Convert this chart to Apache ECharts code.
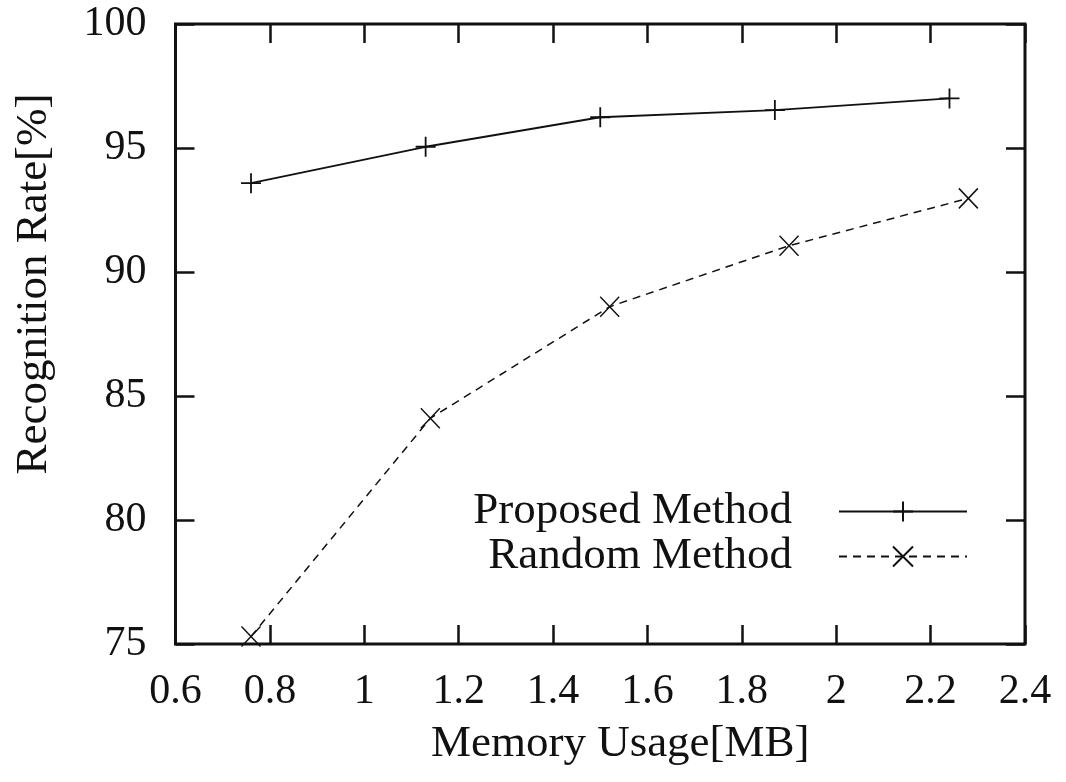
<!DOCTYPE html>
<html>
<head>
<meta charset="utf-8">
<script src="https://cdn.jsdelivr.net/npm/echarts@6/dist/echarts.min.js"></script>
<style>
html,body{margin:0;padding:0;background:#fff;}
#chart{width:1066px;height:782px;}
</style>
</head>
<body>
<div id="chart"></div>
<script>
// ---- data ----
var xTicks = [0.6, 0.8, 1, 1.2, 1.4, 1.6, 1.8, 2, 2.2, 2.4];
var yTicks = [75, 80, 85, 90, 95, 100];
var proposedX = [0.76, 1.13, 1.50, 1.87, 2.24];
var proposedY = [93.58, 95.05, 96.24, 96.53, 97.00];
var randomX = [0.76, 1.14, 1.52, 1.90, 2.28];
var randomY = [75.30, 84.10, 88.60, 91.06, 92.97];
var seriesNames = ['Proposed Method', 'Random Method'];
var xName = 'Memory Usage[MB]';
var yName = 'Recognition Rate[%]';

function pairs(xs, ys) { return xs.map(function (x, i) { return [x, ys[i]]; }); }

var FONT = 'Liberation Serif';
var INK = '#111';
var chart = echarts.init(document.getElementById('chart'), null, {renderer: 'canvas'});

var xMin = xTicks[0], xMax = xTicks[xTicks.length - 1], xInt = 0.2;
var yMin = yTicks[0], yMax = yTicks[yTicks.length - 1], yInt = 5;

var tick = {show: true, inside: true, length: 19, lineStyle: {color: INK, width: 2.5}};

chart.setOption({
  animation: false,
  backgroundColor: '#fff',
  grid: {left: 175.5, right: 41, top: 24, bottom: 138, show: true, borderColor: INK, borderWidth: 3, backgroundColor: 'transparent'},
  legend: {
    orient: 'vertical', align: 'right', right: 93, top: 484,
    itemWidth: 128, itemHeight: 25, itemGap: 0,
    textStyle: {fontFamily: FONT, fontSize: 45, color: INK, lineHeight: 44, padding: [0, 42, 0, 0]},
    data: seriesNames
  },
  xAxis: [
    {type: 'value', min: xMin, max: xMax, interval: xInt, position: 'bottom',
     axisLine: {show: false}, splitLine: {show: false}, axisTick: tick,
     axisLabel: {fontFamily: FONT, fontSize: 42, color: INK, margin: 27},
     name: xName, nameLocation: 'middle', nameGap: 78,
     nameTextStyle: {fontFamily: FONT, fontSize: 45, color: INK, padding: [0, 0, 0, 40]}},
    {type: 'value', min: xMin, max: xMax, interval: xInt, position: 'top',
     axisLine: {show: false}, splitLine: {show: false}, axisTick: tick, axisLabel: {show: false}}
  ],
  yAxis: [
    {type: 'value', min: yMin, max: yMax, interval: yInt, position: 'left',
     axisLine: {show: false}, splitLine: {show: false}, axisTick: tick,
     axisLabel: {fontFamily: FONT, fontSize: 42, color: INK, margin: 29},
     name: yName, nameLocation: 'middle', nameGap: 119, nameRotate: 90,
     nameTextStyle: {fontFamily: FONT, fontSize: 45, color: INK, padding: [0, 0, 0, 100]}},
    {type: 'value', min: yMin, max: yMax, interval: yInt, position: 'right',
     axisLine: {show: false}, splitLine: {show: false}, axisTick: tick, axisLabel: {show: false}}
  ],
  series: [
    {name: seriesNames[0], type: 'line', xAxisIndex: 0, yAxisIndex: 0,
     data: pairs(proposedX, proposedY),
     symbol: 'path://M0,10L20,10M10,0L10,20', symbolSize: 20, showSymbol: true,
     lineStyle: {color: INK, width: 1.8, type: 'solid'},
     itemStyle: {color: INK, borderColor: INK, borderWidth: 1.8},
     emphasis: {disabled: true}},
    {name: seriesNames[1], type: 'line', xAxisIndex: 0, yAxisIndex: 0,
     data: pairs(randomX, randomY),
     symbol: 'path://M0,0L19,20M19,0L0,20', symbolSize: [19, 20], showSymbol: true,
     lineStyle: {color: INK, width: 1.5, type: [8, 6]},
     itemStyle: {color: INK, borderColor: INK, borderWidth: 1.5},
     emphasis: {disabled: true}}
  ]
});
</script>
</body>
</html>
